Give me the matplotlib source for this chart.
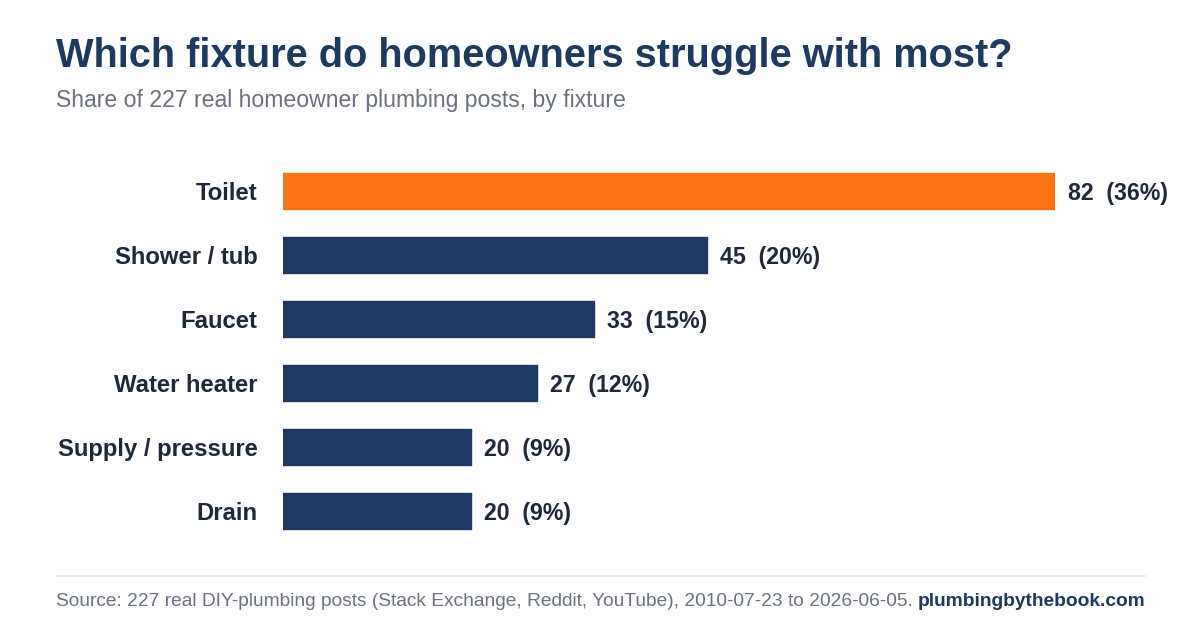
import matplotlib
matplotlib.use("Agg")
import matplotlib.pyplot as plt

plt.rcParams['font.family'] = ['Liberation Sans', 'DejaVu Sans']

fixtures = ["Toilet", "Shower / tub", "Faucet", "Water heater", "Supply / pressure", "Drain"]
counts = [82, 45, 33, 27, 20, 20]
shares = [36, 20, 15, 12, 9, 9]

navy = "#1f3a5f"
orange = "#f97316"

fig = plt.figure(figsize=(12, 6.3), dpi=100)
W, H = 1200, 630
ax = fig.add_axes([283/W, 1-543/H, 772/W, (543-159)/H])
ys = list(range(len(fixtures)))
colors = [orange] + [navy]*(len(fixtures)-1)
ax.barh(ys, counts, height=0.56, color=colors, edgecolor=colors, linewidth=1.0, joinstyle='round')
ax.set_xlim(0, 82)
ax.set_ylim(len(fixtures)-0.5, -0.5)
ax.axis('off')
for y, name, c, s in zip(ys, fixtures, counts, shares):
    ax.text(-2.7, y, name, ha='right', va='center_baseline', fontsize=17.2, fontweight='bold', color='#1e293b')
    ax.text(c + 1.4, y, f"{c}  ({s}%)", ha='left', va='center_baseline', fontsize=16.7, fontweight='bold', color='#1e293b')

fig.text(56/W, 1-56/H, "Which fixture do homeowners struggle with most?", fontsize=28.6,
         fontweight='bold', color=navy, va='center', ha='left')
fig.text(56/W, 1-101/H, "Share of 227 real homeowner plumbing posts, by fixture", fontsize=16.6,
         color='#6b7280', va='center', ha='left')
fig.add_artist(plt.Line2D([56/W, 1145/W], [1-576/H, 1-576/H], color='#e5e7eb', lw=1.2))
t = fig.text(56/W, 1-602/H, "Source: 227 real DIY-plumbing posts (Stack Exchange, Reddit, YouTube), 2010-07-23 to 2026-06-05. ",
             fontsize=13.8, color='#6b7280', va='center', ha='left')
fig.canvas.draw()
bb = t.get_window_extent()
fig.text(bb.x1/W, 1-602/H, "plumbingbythebook.com", fontsize=13.8, fontweight='bold', color=navy,
         va='center', ha='left')
fig.savefig("out.png", dpi=100)
